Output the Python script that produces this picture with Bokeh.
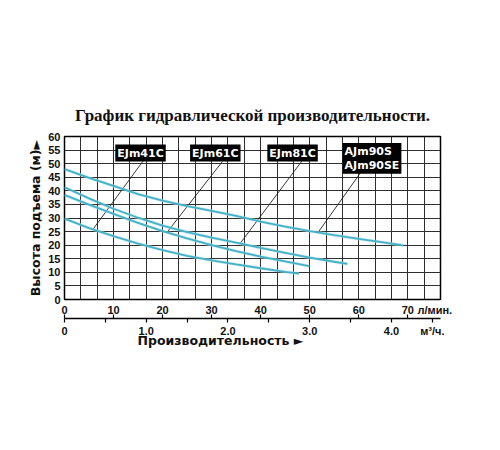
import numpy as np
from bokeh.plotting import figure
from bokeh.models import Range1d, LinearAxis, FixedTicker, Label, Title, CustomJSTickFormatter
from bokeh.embed import file_html
from bokeh.resources import INLINE

# ---------------- data ----------------
title_text = "График гидравлической производительности."
y_label = "Высота подъема (м)►"
x_label = "Производительность ►"
unit_lmin = "л/мин."
unit_m3h = "м³/ч."

flow_ticks_lmin = [0, 10, 20, 30, 40, 50, 60, 70]
flow_ticks_m3h = [0, 0.5, 1.0, 1.5, 2.0, 2.5, 3.0, 3.5, 4.0, 4.5]
head_ticks = [0, 5, 10, 15, 20, 25, 30, 35, 40, 45, 50, 55, 60]

model_names = ["EJm41C", "EJm61C", "EJm81C", "AJm90S\nAJm90SE"]

# flow in l/min, head in m
aj90_flow = [0, 5, 10, 15, 20, 25, 30, 35, 40, 45, 50, 55, 60, 65, 69.1]
aj90_head = [48.0, 44.8, 41.8, 38.8, 36.4, 34.4, 32.6, 30.8, 28.7, 26.8, 25.2, 23.7, 22.3, 21.0, 19.9]
ej81_flow = [0, 5, 10, 15, 20, 25, 30, 35, 40, 45, 50, 55, 57.7]
ej81_head = [41.3, 37.2, 33.4, 30.1, 27.2, 24.8, 22.8, 20.9, 19.0, 17.2, 15.4, 13.9, 13.1]
ej61_flow = [0, 5, 10, 15, 20, 25, 30, 35, 40, 45, 49.9]
ej61_head = [38.5, 34.9, 31.5, 28.2, 25.2, 22.5, 20.0, 17.8, 15.8, 14.0, 12.3]
ej41_flow = [0, 5, 10, 15, 20, 25, 30, 35, 40, 45, 47.8]
ej41_head = [29.8, 26.3, 23.3, 20.6, 18.2, 16.1, 14.4, 12.9, 11.5, 10.2, 9.5]

LMIN_PER_M3H = 1000 / 60.0

# ---------------- figure ----------------
p = figure(frame_width=376, frame_height=163,
           min_border_left=64, min_border_top=136, min_border_right=44, min_border_bottom=60,
           x_range=Range1d(0, 4.6 * LMIN_PER_M3H), y_range=Range1d(0, 60),
           output_backend="svg", toolbar_location=None, tools="")
p.extra_x_ranges = {"m3h": Range1d(0, 4.6)}
p.background_fill_color = "white"
p.border_fill_color = "white"
p.outline_line_color = "black"
p.outline_line_width = 1.5

# title
p.title.text = title_text
p.title.align = "center"
p.title.text_font = "Liberation Serif"
p.title.text_font_style = "bold"
p.title.text_font_size = "17px"
p.title.text_color = "#111111"
p.title.standoff = 24

grid_col = "#2e2e2e"
p.xgrid.ticker = FixedTicker(ticks=[i * 0.2 * LMIN_PER_M3H for i in range(1, 23)])
p.ygrid.ticker = FixedTicker(ticks=head_ticks[1:-1])
for g in (p.xgrid, p.ygrid):
    g.grid_line_color = grid_col
    g.grid_line_width = 1
    g.grid_line_alpha = 1

tick_font = "Liberation Sans"

# y axis
ya = p.yaxis[0]
ya.ticker = FixedTicker(ticks=head_ticks)
ya.major_tick_out = 0
ya.major_tick_in = 0
ya.minor_tick_out = 0
ya.axis_line_color = None
ya.major_label_standoff = 4
ya.major_label_text_font = tick_font
ya.major_label_text_font_style = "bold"
ya.major_label_text_font_size = "11px"
ya.major_label_text_color = "#111111"
ya.axis_label = y_label
ya.axis_label_text_font = "DejaVu Sans"
ya.axis_label_text_font_style = "bold"
ya.axis_label_text_font_size = "12.5px"
ya.axis_label_standoff = 2
ya.axis_label_text_color = "#111111"

# x axis 1 (l/min)
xa = p.xaxis[0]
xa.ticker = FixedTicker(ticks=flow_ticks_lmin + [75.5])
xa.formatter = CustomJSTickFormatter(args=dict(unit=unit_lmin), code="""
    return tick > 72 ? unit : tick.toFixed(0);
""")
xa.major_tick_out = 0
xa.major_tick_in = 0
xa.minor_tick_out = 0
xa.axis_line_color = None
xa.major_label_standoff = 4
xa.major_label_text_font = tick_font
xa.major_label_text_font_style = "bold"
xa.major_label_text_font_size = "11px"
xa.major_label_text_color = "#111111"

# x axis 2 (m3/h)
xa2 = LinearAxis(x_range_name="m3h",
                 ticker=FixedTicker(ticks=flow_ticks_m3h,
                                    minor_ticks=[v / LMIN_PER_M3H for v in flow_ticks_lmin]),
                 formatter=CustomJSTickFormatter(args=dict(unit=unit_m3h), code="""
                     if (tick > 4.4) return unit;
                     if (Math.abs(tick - Math.round(tick)) > 1e-6) return "";
                     return tick == 0 ? "0" : tick.toFixed(1);
                 """))
xa2.major_tick_out = 4
xa2.major_tick_in = 0
xa2.minor_tick_in = 4
xa2.minor_tick_out = 0
xa2.axis_line_width = 1.5
xa2.major_tick_line_width = 1.2
xa2.minor_tick_line_width = 1.2
xa2.major_label_standoff = 2
xa2.major_label_text_font = tick_font
xa2.major_label_text_font_style = "bold"
xa2.major_label_text_font_size = "11px"
xa2.major_label_text_color = "#111111"
p.add_layout(xa2, "below")

# x axis title
p.add_layout(Title(text=x_label, align="left", offset=73, standoff=-17,
                   text_font="DejaVu Sans", text_font_style="bold",
                   text_font_size="12.5px", text_color="#111111"), "below")

# leader lines from model labels to curves
leader_top_x = [16.2, 32.2, 48.5, 60.3]
leader_top_y = [51.4, 50.8, 51.2, 46.5]
leader_flow = [5.8, 20.9, 35.8, 51.7]
curves_for_leader = [(ej41_flow, ej41_head), (ej61_flow, ej61_head),
                     (ej81_flow, ej81_head), (aj90_flow, aj90_head)]
leader_bot_y = [float(np.interp(f, c[0], c[1])) for f, c in zip(leader_flow, curves_for_leader)]
p.segment(x0=leader_top_x, y0=leader_top_y, x1=leader_flow, y1=leader_bot_y,
          line_color="#222222", line_width=0.9)

# curves
curve_col = "#45b1c5"
for fx, hy in [(aj90_flow, aj90_head), (ej81_flow, ej81_head),
               (ej61_flow, ej61_head), (ej41_flow, ej41_head)]:
    p.line(fx, hy, line_color="#a9dde6", line_width=3.2, line_alpha=0.55)
    p.line(fx, hy, line_color=curve_col, line_width=1.8)

# model labels
label_x = [15.5, 30.75, 46.5, 56.7]
label_y = [53.9, 53.9, 53.9, 57.6]
for i, name in enumerate(model_names):
    multi = "\n" in name
    p.add_layout(Label(x=label_x[i], y=label_y[i], text=name,
                       text_align="left" if multi else "center",
                       text_baseline="top" if multi else "middle",
                       text_color="white", text_font="DejaVu Sans",
                       text_font_style="bold", text_font_size="11px",
                       text_line_height=1.05,
                       background_fill_color="black", padding=2))

open("out.html", "w").write(file_html(p, INLINE))
